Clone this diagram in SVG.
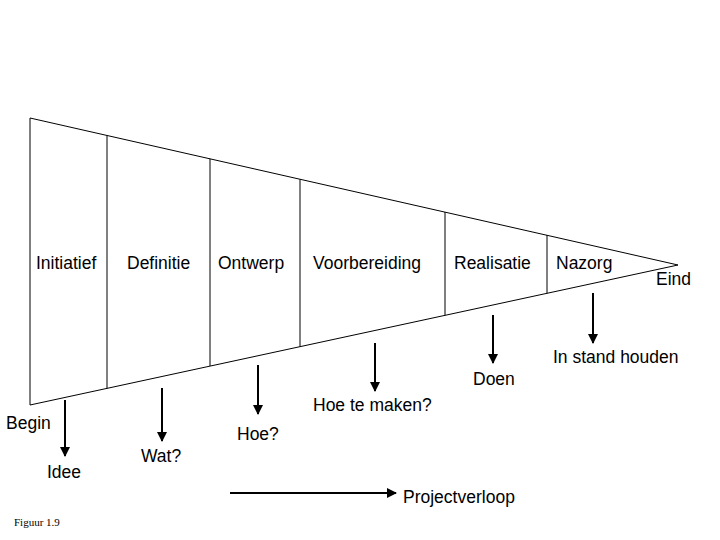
<svg xmlns="http://www.w3.org/2000/svg" width="720" height="540" viewBox="0 0 720 540">
<style>
.l{stroke:#000;stroke-width:1;fill:none}
.a{stroke:#000;stroke-width:2;fill:none;marker-end:url(#ah)}
text{font-family:"Liberation Sans",Arial,sans-serif;font-size:17.5px;fill:#000}
</style>
<defs><marker id="ah" viewBox="0 0 10 10" refX="9" refY="5" markerWidth="5" markerHeight="5" orient="auto"><path d="M0,0L10,5L0,10z" fill="#000"/></marker></defs>
<rect width="720" height="540" fill="#fff"/>
<g id="funnel">
<path class="l" d="M30,118L678,265L30,405Z"/>
<line class="l" x1="107" y1="135.5" x2="107" y2="388.4"/>
<line class="l" x1="210" y1="158.8" x2="210" y2="366"/>
<line class="l" x1="300" y1="179.3" x2="300" y2="346.7"/>
<line class="l" x1="445" y1="212" x2="445" y2="315.3"/>
<line class="l" x1="547" y1="235" x2="547" y2="293.3"/>
</g>
<g id="phases">
<text x="36" y="269">Initiatief</text>
<text x="127" y="269">Definitie</text>
<text x="218" y="269">Ontwerp</text>
<text x="313" y="269">Voorbereiding</text>
<text x="454" y="269">Realisatie</text>
<text x="556" y="269">Nazorg</text>
<text x="656" y="285">Eind</text>
</g>
<g id="connectors">
<line class="a" x1="65" y1="400" x2="65" y2="456"/>
<line class="a" x1="162" y1="388" x2="162" y2="441"/>
<line class="a" x1="258" y1="365" x2="258" y2="414"/>
<line class="a" x1="375" y1="343" x2="375" y2="391"/>
<line class="a" x1="493" y1="315" x2="493" y2="363"/>
<line class="a" x1="593" y1="293" x2="593" y2="343"/>
<line class="a" x1="230" y1="493" x2="396" y2="493"/>
</g>
<g id="labels">
<text x="6" y="429">Begin</text>
<text x="47" y="478">Idee</text>
<text x="141" y="462">Wat?</text>
<text x="237" y="440">Hoe?</text>
<text x="313" y="411">Hoe te maken?</text>
<text x="473" y="385">Doen</text>
<text x="553" y="363">In stand houden</text>
<text x="403" y="503">Projectverloop</text>
<text x="14" y="526" style="font-family:'Liberation Serif',serif;font-size:11px">Figuur 1.9</text>
</g>
</svg>
